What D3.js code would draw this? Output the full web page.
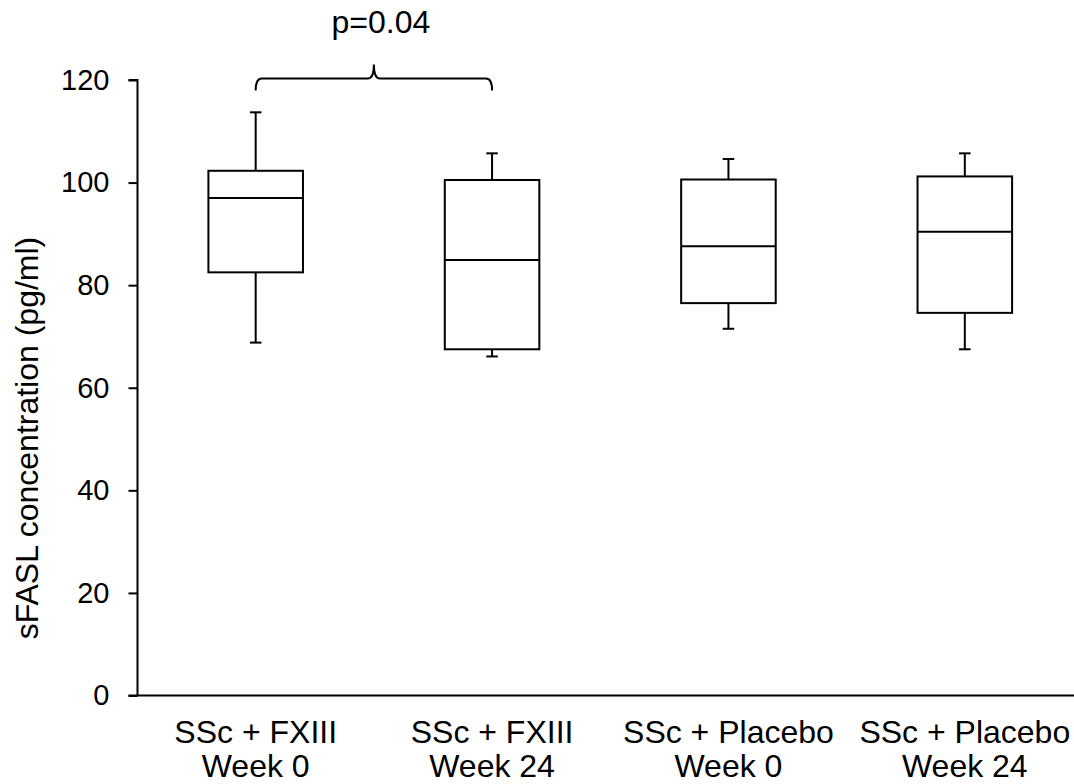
<!DOCTYPE html>
<html>
<head>
<meta charset="utf-8">
<script src="https://cdn.jsdelivr.net/npm/d3@7"></script>
<style>
  html, body { margin: 0; padding: 0; background: #fff; }
  svg { display: block; }
  text { font-family: Arial, "Liberation Sans", sans-serif; fill: #000; }
</style>
</head>
<body>
<svg id="chart" width="1074" height="784"></svg>
<script>
// Group labels (two lines each)
const groupLine1 = ["SSc + FXIII", "SSc + FXIII", "SSc + Placebo", "SSc + Placebo"];
const groupLine2 = ["Week 0", "Week 24", "Week 0", "Week 24"];

// Box-plot statistics, sFASL (pg/ml)
const whiskerLow  = [68.8, 66.1, 71.5, 67.5];
const quartile1   = [82.5, 67.5, 76.5, 74.6];
const medians     = [97.0, 84.9, 87.6, 90.4];
const quartile3   = [102.3, 100.5, 100.6, 101.2];
const whiskerHigh = [113.7, 105.7, 104.6, 105.7];

// Y axis ticks
const yTicks = [0, 20, 40, 60, 80, 100, 120];

// Significance bracket between the two FXIII groups
const bracketGroups = [0, 1];
const bracketLevel = 120.3;
const bracketLabel = "p=0.04";

const svg = d3.select("#chart");
const W = 1074, H = 784;
const plotLeft = 137.5, plotTop = 80, plotBottom = 695.5;

const y = d3.scaleLinear().domain([0, 120]).range([plotBottom, plotTop]);
const x = d3.scaleBand().domain(d3.range(groupLine1.length)).range([plotLeft, 1083]).paddingInner(0).paddingOuter(0);
const boxW = x.bandwidth() * 0.4;
const capW = 11.5;
const cx = i => x(i) + x.bandwidth() / 2;

// Y axis
const yAxis = d3.axisLeft(y).tickValues(yTicks).tickSize(9).tickPadding(19).tickFormat(d3.format("d"));
const gy = svg.append("g").attr("transform", `translate(${plotLeft},0)`).call(yAxis);
gy.select(".domain").attr("stroke", "#000").attr("stroke-width", 2).attr("d", `M-9,${plotTop}H0V${plotBottom}`);
gy.selectAll(".tick line").attr("stroke", "#000").attr("stroke-width", 2);
gy.selectAll(".tick text").style("font-size", "29px").style("font-family", "Arial, 'Liberation Sans', sans-serif").attr("fill", "#000");

// X axis baseline
svg.append("line")
  .attr("x1", plotLeft - 9).attr("x2", W)
  .attr("y1", y(0)).attr("y2", y(0))
  .attr("stroke", "#000").attr("stroke-width", 2);

// Category labels
const labels = svg.append("g").selectAll("text").data(d3.range(groupLine1.length)).join("text")
  .attr("text-anchor", "middle")
  .attr("x", d => cx(d))
  .style("font-size", "32px");
labels.append("tspan").attr("x", d => cx(d)).attr("y", 743).text(d => groupLine1[d]);
labels.append("tspan").attr("x", d => cx(d)).attr("y", 777).text(d => groupLine2[d]);

// Y axis title
svg.append("text")
  .attr("transform", `translate(38,438) rotate(-90)`)
  .attr("text-anchor", "middle")
  .style("font-size", "32px")
  .text("sFASL concentration (pg/ml)");

// Boxes
const boxes = svg.append("g").selectAll("g").data(d3.range(groupLine1.length)).join("g");
function styled(sel) { return sel.attr("stroke", "#000").attr("stroke-width", 2).attr("fill", "none"); }

// whiskers
styled(boxes.append("line")).attr("x1", cx).attr("x2", cx)
  .attr("y1", d => y(quartile3[d])).attr("y2", d => y(whiskerHigh[d]));
styled(boxes.append("line")).attr("x1", cx).attr("x2", cx)
  .attr("y1", d => y(quartile1[d])).attr("y2", d => y(whiskerLow[d]));
// caps
styled(boxes.append("line")).attr("x1", d => cx(d) - capW / 2).attr("x2", d => cx(d) + capW / 2)
  .attr("y1", d => y(whiskerHigh[d])).attr("y2", d => y(whiskerHigh[d]));
styled(boxes.append("line")).attr("x1", d => cx(d) - capW / 2).attr("x2", d => cx(d) + capW / 2)
  .attr("y1", d => y(whiskerLow[d])).attr("y2", d => y(whiskerLow[d]));
// box
styled(boxes.append("rect"))
  .attr("x", d => cx(d) - boxW / 2).attr("width", boxW)
  .attr("y", d => y(quartile3[d])).attr("height", d => y(quartile1[d]) - y(quartile3[d]))
  .attr("fill", "#fff");
// median
styled(boxes.append("line")).attr("x1", d => cx(d) - boxW / 2).attr("x2", d => cx(d) + boxW / 2)
  .attr("y1", d => y(medians[d])).attr("y2", d => y(medians[d]));

// Curly bracket with p-value
const bx0 = cx(bracketGroups[0]), bx1 = cx(bracketGroups[1]);
const by = y(bracketLevel);
const mid = (bx0 + bx1) / 2;
const endDrop = 12, tip = 14, r = 6;
const p = d3.path();
p.moveTo(bx0, by + endDrop);
p.quadraticCurveTo(bx0, by, bx0 + r, by);
p.lineTo(mid - r, by);
p.quadraticCurveTo(mid, by, mid, by - tip);
p.quadraticCurveTo(mid, by, mid + r, by);
p.lineTo(bx1 - r, by);
p.quadraticCurveTo(bx1, by, bx1, by + endDrop);
svg.append("path").attr("d", p.toString()).attr("fill", "none").attr("stroke", "#000").attr("stroke-width", 2);

svg.append("text")
  .attr("x", mid + 7).attr("y", 33)
  .attr("text-anchor", "middle")
  .style("font-size", "32px")
  .text(bracketLabel);
</script>
</body>
</html>
